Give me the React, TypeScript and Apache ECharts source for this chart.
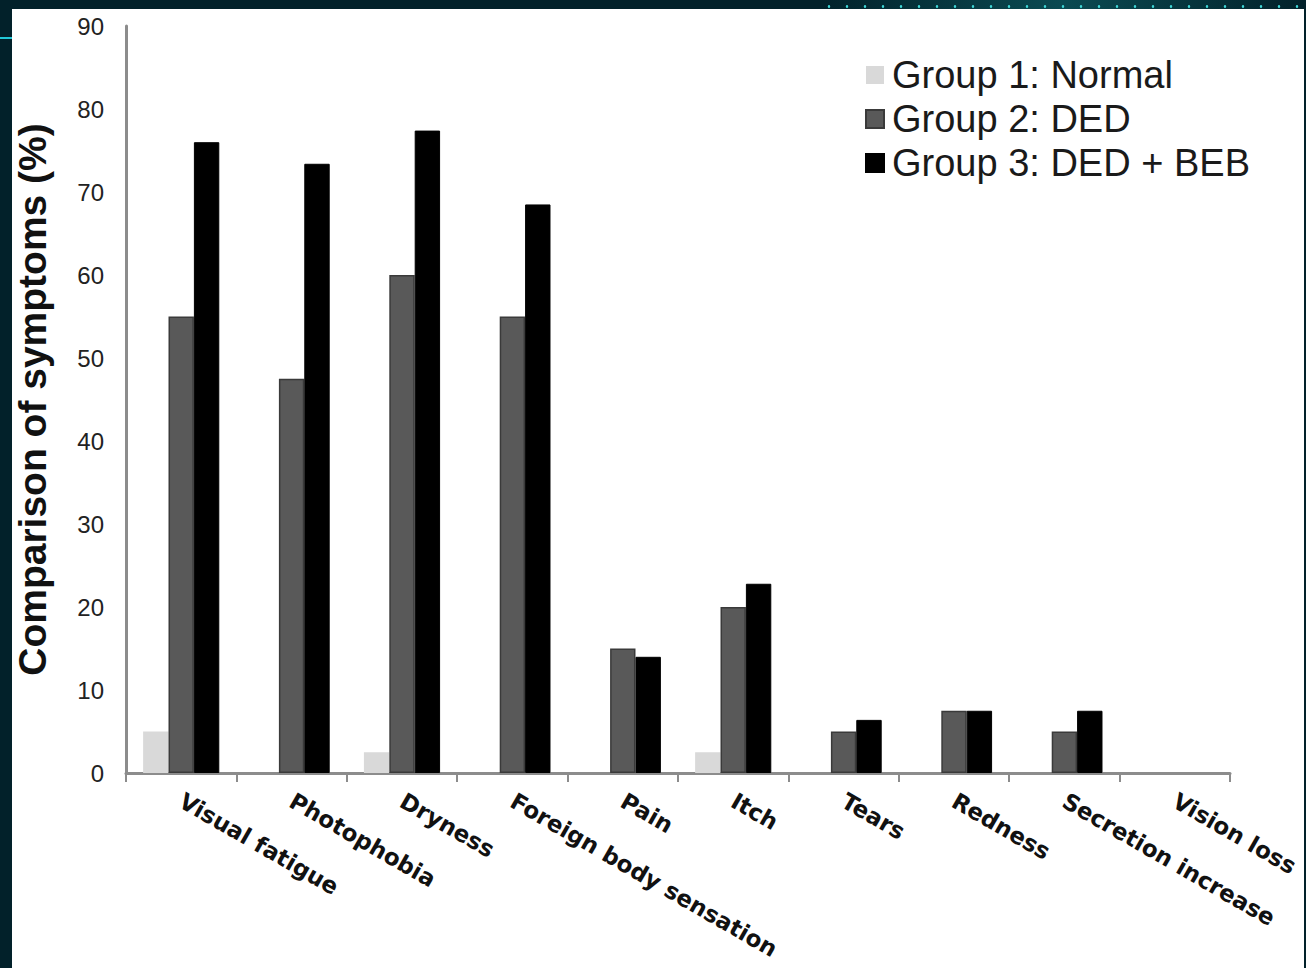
import React, { useEffect, useRef } from "react";
import * as echarts from "echarts";

const categories = [
  "Visual fatigue",
  "Photophobia",
  "Dryness",
  "Foreign body sensation",
  "Pain",
  "Itch",
  "Tears",
  "Redness",
  "Secretion increase",
  "Vision loss",
];
const seriesNames = ["Group 1: Normal", "Group 2: DED", "Group 3: DED + BEB"];
const group1 = [5, 0, 2.5, 0, 0, 2.5, 0, 0, 0, 0];
const group2 = [55, 47.5, 60, 55, 15, 20, 5, 7.5, 5, 0];
const group3 = [76, 73.4, 77.4, 68.5, 14, 22.8, 6.4, 7.5, 7.5, 0];
const yTicks = { min: 0, max: 90, interval: 10 };

const FONT = "'Liberation Sans', Arial, sans-serif";
const LABEL_FONT = "'DejaVu Sans', Verdana, sans-serif";

const toData = (arr: number[], borderWidth: number) =>
  arr.map((v) => ({ value: v, itemStyle: { borderWidth: v === 0 ? 0 : borderWidth } }));

export default function App() {
  const ref = useRef<HTMLDivElement>(null);
  useEffect(() => {
    if (!ref.current) return;
    const chart = echarts.init(ref.current, null, { renderer: "svg" });
    chart.setOption({
      animation: false,
      backgroundColor: "#ffffff",
      textStyle: { fontFamily: FONT },
      legend: {
        orient: "vertical",
        left: 848,
        top: 42,
        itemWidth: 18,
        itemHeight: 18,
        itemGap: 6,
        icon: "rect",
        textStyle: {
          fontSize: 38,
          lineHeight: 38,
          color: "#1a1a1a",
          fontFamily: FONT,
          padding: [0, 0, 0, 3],
        },
        data: seriesNames,
      },
      grid: {
        left: 114,
        right: 74,
        top: 17,
        bottom: 195,
        containLabel: false,
        outerBoundsMode: "none",
      },
      xAxis: {
        type: "category",
        data: categories,
        axisLine: { show: true, lineStyle: { color: "#8c8c8c", width: 3 } },
        axisTick: { show: true, length: 9, lineStyle: { color: "#8c8c8c", width: 2 } },
        axisLabel: {
          interval: 0,
          rotate: -30,
          margin: 26,
          fontSize: 23,
          fontWeight: "bold",
          color: "#111",
          fontFamily: LABEL_FONT,
        },
      },
      yAxis: {
        type: "value",
        min: yTicks.min,
        max: yTicks.max,
        interval: yTicks.interval,
        name: "Comparison of symptoms (%)",
        nameLocation: "middle",
        nameGap: 76,
        nameTextStyle: {
          fontSize: 39,
          lineHeight: 36,
          fontWeight: "bold",
          color: "#111",
          fontFamily: FONT,
        },
        axisLine: { show: true, lineStyle: { color: "#8c8c8c", width: 3 } },
        axisTick: { show: false },
        splitLine: { show: false },
        axisLabel: { fontSize: 24, color: "#222", margin: 22, fontFamily: FONT },
      },
      series: [
        {
          name: seriesNames[0],
          type: "bar",
          data: toData(group1, 0),
          barGap: "0%",
          barCategoryGap: "31%",
          itemStyle: { color: "#d9d9d9" },
        },
        {
          name: seriesNames[1],
          type: "bar",
          data: toData(group2, 1.5),
          barGap: "0%",
          barCategoryGap: "31%",
          itemStyle: { color: "#595959", borderColor: "#3a3a3a", borderWidth: 1.5 },
        },
        {
          name: seriesNames[2],
          type: "bar",
          data: toData(group3, 1),
          barGap: "0%",
          barCategoryGap: "31%",
          itemStyle: { color: "#000000", borderColor: "#000000", borderWidth: 1 },
        },
      ],
    });
    return () => chart.dispose();
  }, []);

  return (
    <div
      style={{
        position: "fixed",
        left: 0,
        top: 0,
        width: 1306,
        height: 968,
        background: "#02212a",
        overflow: "hidden",
      }}
    >
      <div
        style={{
          position: "absolute",
          left: 820,
          top: 0,
          width: 486,
          height: 9,
          background:
            "radial-gradient(circle, #3fd6d6 1px, transparent 1.6px) 0 2px / 18px 9px, linear-gradient(90deg, #02212a, #0b4a52 50%, #02212a)",
        }}
      />
      <div
        style={{
          position: "absolute",
          left: 0,
          top: 37,
          width: 12,
          height: 2,
          background: "#22c8d8",
        }}
      />
      <div
        ref={ref}
        style={{
          position: "absolute",
          left: 12,
          top: 9,
          width: 1292,
          height: 959,
          background: "#ffffff",
        }}
      />
    </div>
  );
}
